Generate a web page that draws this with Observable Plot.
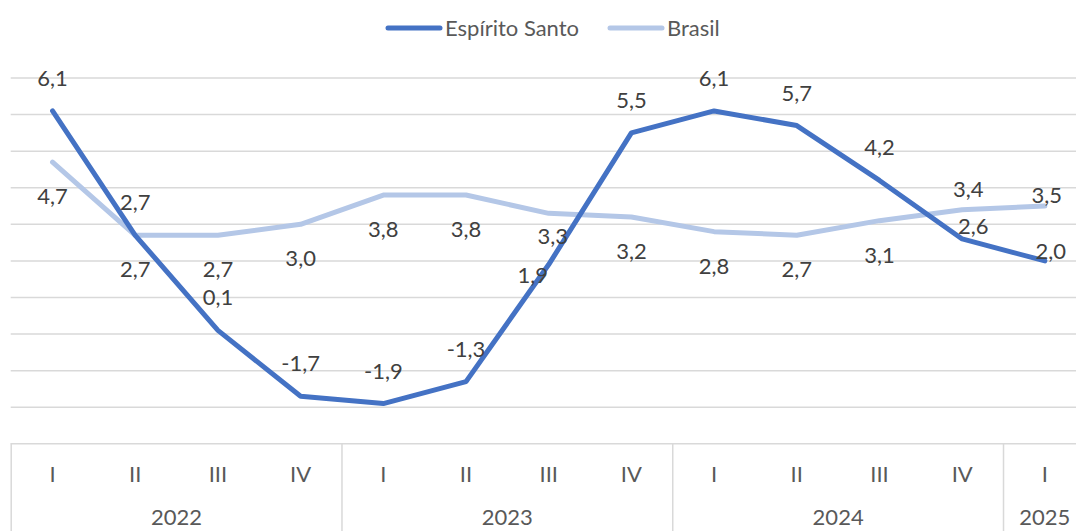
<!DOCTYPE html>
<html><head><meta charset="utf-8">
<script src="https://cdn.jsdelivr.net/npm/d3@7"></script>
<script src="https://cdn.jsdelivr.net/npm/@observablehq/plot@0.6"></script>
<style>
html,body{margin:0;padding:0;background:#fff;overflow:hidden;width:1076px;height:531px}
#legend{height:55px;display:flex;align-items:center;padding-left:385px;font-family:Lato,sans-serif;font-size:22px;color:#595959;box-sizing:border-box}
.item{display:flex;align-items:center;margin-right:28px}
.item svg{margin-right:2px}
#chart svg{display:block}
</style></head><body>
<div id="legend"></div>
<div id="chart"></div>
<script>
// ---- data ----
const quarters = ["I","II","III","IV","I","II","III","IV","I","II","III","IV","I"];
const years = ["2022","2022","2022","2022","2023","2023","2023","2023","2024","2024","2024","2024","2025"];
const espiritoSanto = [6.1, 2.7, 0.1, -1.7, -1.9, -1.3, 1.9, 5.5, 6.1, 5.7, 4.2, 2.6, 2.0];
const brasil = [4.7, 2.7, 2.7, 3.0, 3.8, 3.8, 3.3, 3.2, 2.8, 2.7, 3.1, 3.4, 3.5];
const seriesNames = ["Espírito Santo", "Brasil"];
const seriesColors = ["#4472C4", "#B4C7E7"];

// ---- legend ----
const legend = document.getElementById("legend");
seriesNames.forEach((name, k) => {
  const item = document.createElement("div");
  item.className = "item";
  item.innerHTML = `<svg width="58" height="10"><line x1="3" y1="5" x2="55" y2="5" stroke="${seriesColors[k]}" stroke-width="5" stroke-linecap="round"/></svg><span>${name}</span>`;
  legend.appendChild(item);
});

// ---- table ----
const rows = quarters.map((q, i) => ({i, q, year: years[i], es: espiritoSanto[i], br: brasil[i]}));
const groups = d3.groups(rows, d => d.year).map(([year, rs]) => ({
  year, start: rs[0].i - 0.5, end: rs[rs.length - 1].i + 0.5, mid: d3.mean(rs, d => d.i)
}));
const bounds = groups.map(g => g.start).concat([groups[groups.length - 1].end]);
const fmt = v => v.toFixed(1).replace(".", ",");

// label placement (style)
const esDefault = {dx: 0, dy: -32}, brDefault = {dx: 0, dy: 35};
const esAdjust = {6: {dx: -16, dy: 11}, 11: {dx: 11, dy: -12}, 12: {dx: 6, dy: -9}};
const brAdjust = {6: {dx: 4, dy: 24}, 11: {dx: 6, dy: -20}, 12: {dx: 2, dy: -10}};
const labelStyle = {fill: "#404040", fontSize: 22};
const labelMarks = [];
rows.forEach(r => {
  const b = brAdjust[r.i] || brDefault;
  labelMarks.push(Plot.text([r], {x: "i", y: "br", text: d => fmt(d.br), dx: b.dx, dy: b.dy, ...labelStyle}));
  const a = esAdjust[r.i] || esDefault;
  labelMarks.push(Plot.text([r], {x: "i", y: "es", text: d => fmt(d.es), dx: a.dx, dy: a.dy, ...labelStyle}));
});

const lineStyle = {strokeWidth: 5, strokeLinejoin: "round", strokeLinecap: "round"};
const grid = "#d9d9d9";

const chart = Plot.plot({
  width: 1076, height: 476,
  marginTop: 22.5, marginBottom: 87.7, marginLeft: 0, marginRight: 0,
  x: {type: "linear", domain: [-0.5, 12.5], range: [10.7, 1085.7], axis: null},
  y: {domain: [-3, 7], axis: null},
  style: {fontFamily: "Lato, sans-serif", fontSize: "22px", background: "white"},
  marks: [
    Plot.ruleY(d3.range(-2, 8), {x1: -0.5, x2: 12.5, stroke: grid, strokeWidth: 1.5}),
    Plot.ruleY([-3], {x1: -0.5, x2: 12.5, stroke: grid, strokeWidth: 1.5}),
    Plot.ruleX(bounds, {x: d => d, y1: -3, y2: -5.5, stroke: grid, strokeWidth: 1.5}),
    Plot.line(rows, {x: "i", y: "br", stroke: seriesColors[1], ...lineStyle}),
    Plot.line(rows, {x: "i", y: "es", stroke: seriesColors[0], ...lineStyle}),
    Plot.text(rows, {x: "i", y: -3, text: "q", dy: 30.7, fill: "#595959", fontSize: 22}),
    Plot.text(groups, {x: "mid", y: -3, text: "year", dy: 74.5, fill: "#595959", fontSize: 22}),
    ...labelMarks
  ]
});
document.getElementById("chart").appendChild(chart);
</script>
</body></html>
